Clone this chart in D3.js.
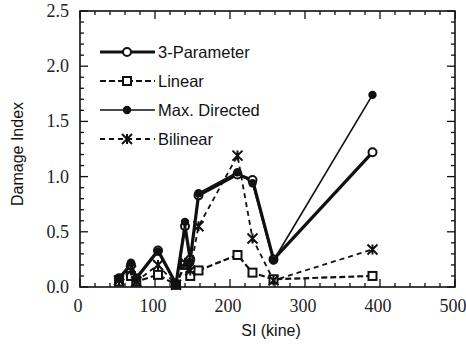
<!DOCTYPE html>
<html>
<head>
<meta charset="utf-8">
<script src="https://cdn.jsdelivr.net/npm/d3@7/dist/d3.min.js"></script>
<style>
  body { margin: 0; background: #fff; }
  .tick-label { font-family: "Liberation Serif", "Times New Roman", serif; font-size: 18px; fill: #222; }
  .axis-title { font-family: "Liberation Sans", Arial, sans-serif; font-size: 16px; fill: #111; }
  .legend-text { font-family: "Liberation Sans", Arial, sans-serif; font-size: 16.5px; fill: #111; }
</style>
</head>
<body>
<div id="chart"></div>
<script>
// SI values (kine) of the records
const si = [52, 68, 75, 104, 128, 140, 147, 158, 210, 230, 258, 390];

const threeParam  = [0.08, 0.20, 0.08, 0.33, 0.03, 0.55, 0.25, 0.83, 1.02, 0.97, 0.25, 1.22];
const linear      = [0.05, 0.10, 0.05, 0.11, 0.02, 0.20, 0.10, 0.15, 0.29, 0.13, 0.07, 0.10];
const maxDirected = [0.08, 0.22, 0.07, 0.32, 0.02, 0.59, 0.22, 0.85, 1.04, 0.94, 0.24, 1.74];
const bilinear    = [0.06, 0.15, 0.05, 0.20, 0.02, 0.22, 0.15, 0.55, 1.19, 0.44, 0.06, 0.34];

const xTicks = [0, 100, 200, 300, 400, 500];
const yTicks = [0, 0.5, 1.0, 1.5, 2.0, 2.5];

const width = 466, height = 345;
const margin = { top: 11, right: 10, bottom: 58, left: 80 };

const svg = d3.select('#chart').append('svg')
  .attr('width', width)
  .attr('height', height);

const x = d3.scaleLinear().domain([0, 500]).range([margin.left, width - margin.right - 1]);
const y = d3.scaleLinear().domain([0, 2.5]).range([height - margin.bottom, margin.top]);

const g = svg.append('g');

// frame
g.append('rect')
  .attr('x', x(0)).attr('y', y(2.5))
  .attr('width', x(500) - x(0)).attr('height', y(0) - y(2.5))
  .attr('fill', 'none').attr('stroke', '#111').attr('stroke-width', 1.6);

// inward ticks on all four sides
const xMinor = d3.range(0, 501, 20);
const yMinor = d3.range(0, 26).map(d => d / 10);
const isMajorX = v => v % 100 === 0;
const isMajorY = v => Math.abs(v * 2 - Math.round(v * 2)) < 1e-6;

xMinor.forEach(v => {
  const len = isMajorX(v) ? 8 : 4;
  g.append('line').attr('x1', x(v)).attr('x2', x(v)).attr('y1', y(0)).attr('y2', y(0) - len)
    .attr('stroke', '#111').attr('stroke-width', 1.3);
  g.append('line').attr('x1', x(v)).attr('x2', x(v)).attr('y1', y(2.5)).attr('y2', y(2.5) + len)
    .attr('stroke', '#111').attr('stroke-width', 1.3);
});
yMinor.forEach(v => {
  const len = isMajorY(v) ? 8 : 4;
  g.append('line').attr('x1', x(0)).attr('x2', x(0) + len).attr('y1', y(v)).attr('y2', y(v))
    .attr('stroke', '#111').attr('stroke-width', 1.3);
  g.append('line').attr('x1', x(500)).attr('x2', x(500) - len).attr('y1', y(v)).attr('y2', y(v))
    .attr('stroke', '#111').attr('stroke-width', 1.3);
});

// tick labels
g.selectAll('.xl').data(xTicks).enter().append('text')
  .attr('class', 'tick-label')
  .attr('x', d => x(d) - 2).attr('y', y(0) + 25)
  .attr('text-anchor', 'middle')
  .text(d => d);
g.selectAll('.yl').data(yTicks).enter().append('text')
  .attr('class', 'tick-label')
  .attr('x', x(0) - 11).attr('y', d => y(d) + 6)
  .attr('text-anchor', 'end')
  .text(d => d.toFixed(1));

// axis titles
svg.append('text').attr('class', 'axis-title')
  .attr('x', 271).attr('y', 336).attr('text-anchor', 'middle')
  .text('SI (kine)');
svg.append('text').attr('class', 'axis-title')
  .attr('transform', 'translate(23,154) rotate(-90)')
  .attr('text-anchor', 'middle')
  .text('Damage Index');

const series = [
  { name: '3-Parameter', values: threeParam, width: 3.2, dash: null, marker: 'circle-open' },
  { name: 'Linear', values: linear, width: 2.2, dash: '6,3', marker: 'square-open' },
  { name: 'Max. Directed', values: maxDirected, width: 1.6, dash: null, marker: 'circle-filled' },
  { name: 'Bilinear', values: bilinear, width: 1.8, dash: '5,4', marker: 'cross' }
];

const line = d3.line().x(d => x(d[0])).y(d => y(d[1]));

function drawMarker(sel, type, cx, cy) {
  if (type === 'circle-open') {
    sel.append('circle').attr('cx', cx).attr('cy', cy).attr('r', 4)
      .attr('fill', '#fff').attr('stroke', '#111').attr('stroke-width', 2);
  } else if (type === 'circle-filled') {
    sel.append('circle').attr('cx', cx).attr('cy', cy).attr('r', 4.2)
      .attr('fill', '#111');
  } else if (type === 'square-open') {
    sel.append('rect').attr('x', cx - 4).attr('y', cy - 4).attr('width', 8).attr('height', 8)
      .attr('fill', '#fff').attr('stroke', '#111').attr('stroke-width', 2);
  } else if (type === 'cross') {
    const s = 5;
    sel.append('path')
      .attr('d', `M${cx - s},${cy - s}L${cx + s},${cy + s}M${cx - s},${cy + s}L${cx + s},${cy - s}M${cx},${cy - s}L${cx},${cy + s}`)
      .attr('stroke', '#111').attr('stroke-width', 2).attr('fill', 'none');
  }
}

series.forEach(s => {
  const pts = si.map((v, i) => [v, s.values[i]]);
  const sg = g.append('g');
  sg.append('path').datum(pts)
    .attr('d', line)
    .attr('fill', 'none').attr('stroke', '#111')
    .attr('stroke-width', s.width)
    .attr('stroke-dasharray', s.dash)
    .attr('stroke-linejoin', 'round');
  pts.forEach(p => drawMarker(sg, s.marker, x(p[0]), y(p[1])));
});

// legend
const legend = svg.append('g');
series.forEach((s, i) => {
  const ly = 52 + i * 29;
  legend.append('line').attr('x1', 100).attr('x2', 155).attr('y1', ly).attr('y2', ly)
    .attr('stroke', '#111').attr('stroke-width', s.width)
    .attr('stroke-dasharray', s.dash);
  drawMarker(legend, s.marker, 127, ly);
  legend.append('text').attr('class', 'legend-text')
    .attr('x', 158).attr('y', ly + 6).text(s.name);
});
</script>
</body>
</html>
